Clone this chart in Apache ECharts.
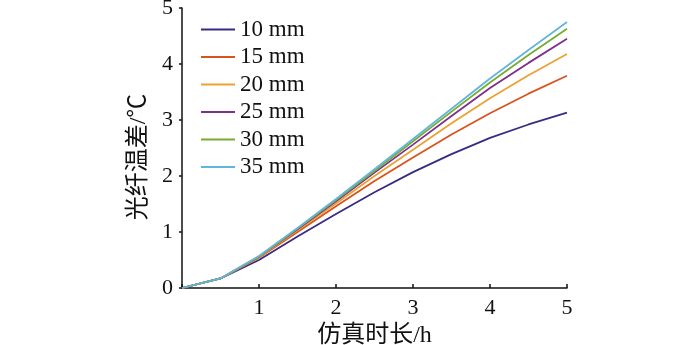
<!DOCTYPE html>
<html>
<head>
<meta charset="utf-8">
<script src="https://cdn.jsdelivr.net/npm/echarts@6/dist/echarts.min.js"></script>
<style>
  html, body { margin: 0; padding: 0; background: #fff; }
  #chart { width: 700px; height: 345px; }
</style>
</head>
<body>
<div id="chart"></div>
<script>
// simulation time (h)
const hours = [0, 0.5, 1, 1.5, 2, 2.5, 3, 3.5, 4, 4.5, 5]

const names = ['10 mm', '15 mm', '20 mm', '25 mm', '30 mm', '35 mm']
const colors = ['#3b2a82', '#d9531e', '#eda131', '#7e2f8e', '#77ac30', '#62b5dc']

const d10 = [0, 0.17, 0.50, 0.92, 1.32, 1.71, 2.07, 2.39, 2.68, 2.92, 3.13]
const d15 = [0, 0.17, 0.54, 1.00, 1.46, 1.91, 2.33, 2.74, 3.12, 3.47, 3.79]
const d20 = [0, 0.17, 0.55, 1.03, 1.51, 2.00, 2.47, 2.94, 3.39, 3.80, 4.18]
const d25 = [0, 0.17, 0.56, 1.05, 1.55, 2.06, 2.56, 3.07, 3.57, 4.02, 4.45]
const d30 = [0, 0.17, 0.56, 1.06, 1.57, 2.09, 2.62, 3.15, 3.67, 4.16, 4.63]
const d35 = [0, 0.17, 0.57, 1.07, 1.59, 2.12, 2.66, 3.20, 3.74, 4.25, 4.75]

const allSeries = [d10, d15, d20, d25, d30, d35]

const chart = echarts.init(document.getElementById('chart'))

const font = '"Liberation Serif", "Noto Sans CJK SC", serif'

chart.setOption({
  animation: false,
  grid: {
    left: 182,
    right: 133,
    top: 8,
    bottom: 57,
    containLabel: false,
    outerBoundsMode: 'none'
  },
  legend: {
    orient: 'vertical',
    left: 196,
    top: 13,
    icon: 'rect',
    itemWidth: 34,
    itemHeight: 2,
    itemGap: 4.5,
    textStyle: {
      fontFamily: font,
      fontSize: 23,
      lineHeight: 23,
      color: '#111'
    },
    data: names
  },
  xAxis: {
    type: 'value',
    min: 0,
    max: 5,
    interval: 1,
    name: '仿真时长/h',
    nameLocation: 'middle',
    nameGap: 27,
    nameTextStyle: {
      fontFamily: font,
      fontSize: 24,
      color: '#111'
    },
    splitLine: { show: false },
    axisLine: { lineStyle: { color: '#111', width: 1.5 } },
    axisTick: { inside: true, length: 4, lineStyle: { color: '#111', width: 1.5 } },
    axisLabel: {
      fontFamily: font,
      fontSize: 22,
      color: '#111',
      margin: 9,
      formatter: v => (v === 0 ? '' : v)
    }
  },
  yAxis: {
    type: 'value',
    min: 0,
    max: 5,
    interval: 1,
    name: '光纤温差/℃',
    nameLocation: 'middle',
    nameGap: 22,
    nameTextStyle: {
      fontFamily: font,
      fontSize: 24,
      color: '#111',
      padding: [0, 18, 0, 0]
    },
    splitLine: { show: false },
    axisLine: { show: true, lineStyle: { color: '#111', width: 1.5 } },
    axisTick: { show: true, length: 3, lineStyle: { color: '#111', width: 1.5 } },
    axisLabel: {
      fontFamily: font,
      fontSize: 22,
      color: '#111',
      margin: 9
    }
  },
  series: allSeries.map((vals, i) => ({
    name: names[i],
    type: 'line',
    showSymbol: false,
    symbol: 'none',
    color: colors[i],
    lineStyle: { width: 1.8, color: colors[i] },
    data: hours.map((h, j) => [h, vals[j]])
  }))
})
</script>
</body>
</html>
